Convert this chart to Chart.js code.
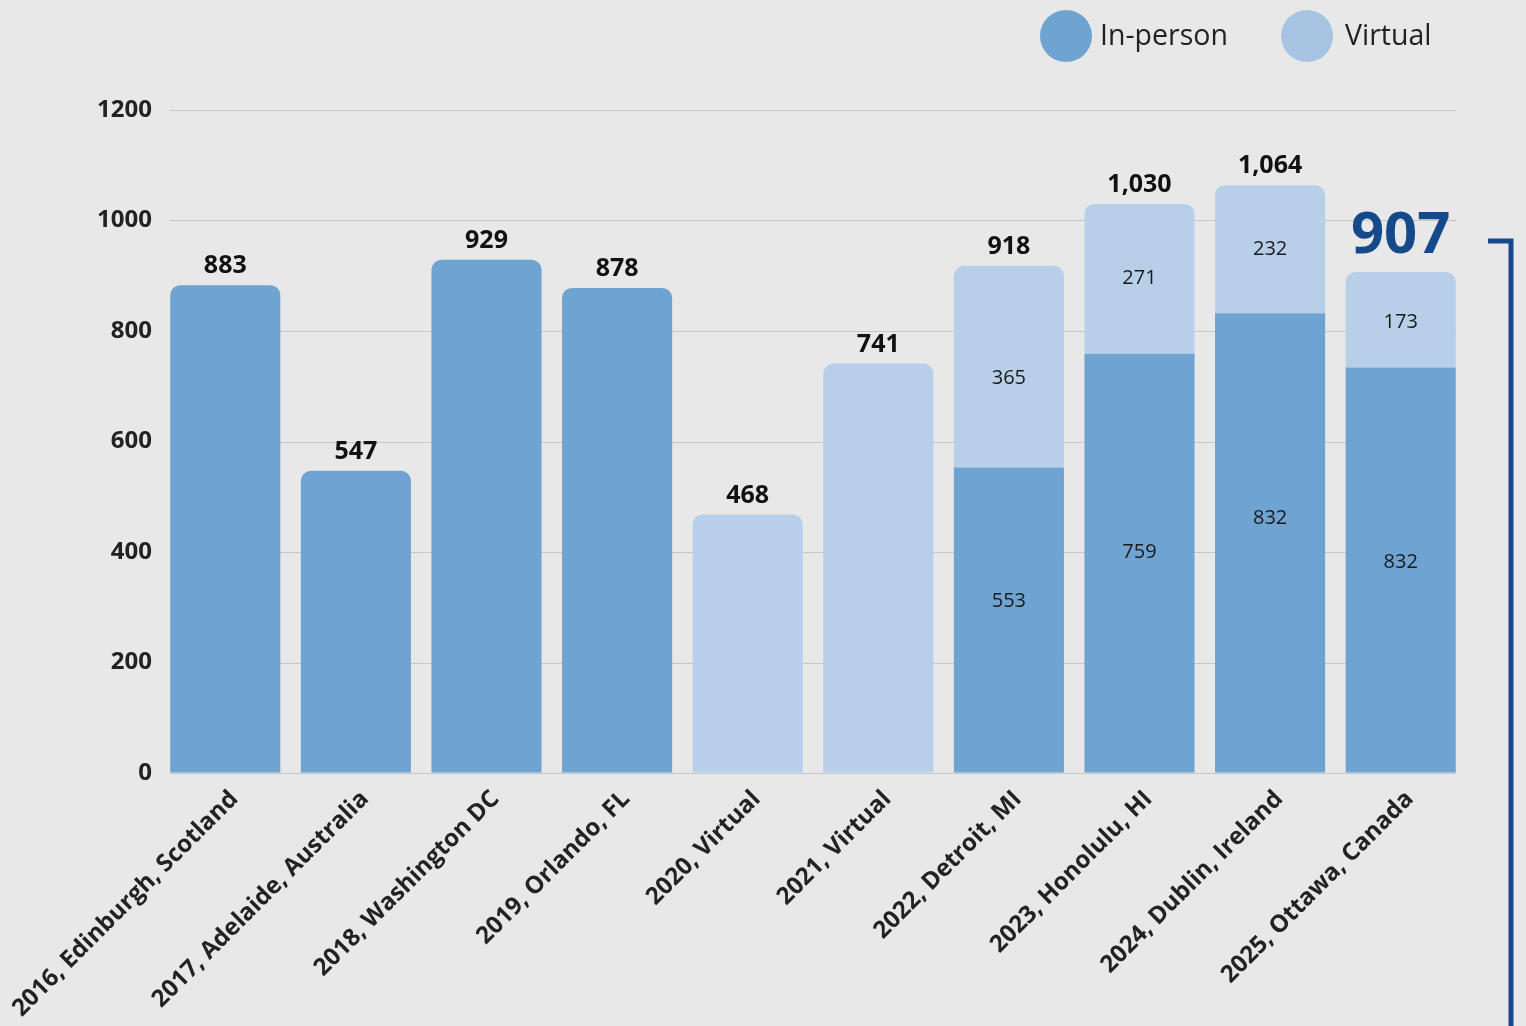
<!DOCTYPE html>
<html>
<head>
<meta charset="utf-8">
<script src="https://cdn.jsdelivr.net/npm/chart.js@4"></script>
<style>
  html, body { margin: 0; padding: 0; background: #e8e8e8; }
  #wrap { width: 1526px; height: 1026px; position: relative; }
</style>
</head>
<body>
<div id="wrap"><canvas id="c" width="1526" height="1026"></canvas></div>
<script>
const categories = ["2016, Edinburgh, Scotland", "2017, Adelaide, Australia", "2018, Washington DC", "2019, Orlando, FL", "2020, Virtual", "2021, Virtual", "2022, Detroit, MI", "2023, Honolulu, HI", "2024, Dublin, Ireland", "2025, Ottawa, Canada"];
const inPerson = [883, 547, 929, 878, null, null, 553, 759, 832, 734];
const virtual = [null, null, null, null, 468, 741, 365, 271, 232, 173];
const inPersonLabels = [null, null, null, null, null, null, "553", "759", "832", "832"];
const virtualLabels = [null, null, null, null, null, null, "365", "271", "232", "173"];
// value at which each segment label sits (as placed in the original)
const inPersonLabelAt = [null, null, null, null, null, null, 311, 399, 461, 381];
const virtualLabelAt = [null, null, null, null, null, null, 714, 895, 948, 816];
const totalLabels = ["883", "547", "929", "878", "468", "741", "918", "1,030", "1,064", "907"];
const highlightIndex = 9;
const yTicks = [0, 200, 400, 600, 800, 1000, 1200];
const seriesNames = ["In-person", "Virtual"];

const FONT = "'Open Sans', 'Noto Sans', sans-serif";
const C_IN = '#6ea3d2';
const C_VIRT = '#b8cfe9';
const C_VIRT_LEGEND = '#a7c4e2';
const C_HIGHLIGHT = '#154a8a';

function isTop(ds, i) {
  if (ds === 1) return virtual[i] != null;
  return virtual[i] == null;
}

const bgPlugin = {
  id: 'bg',
  beforeDraw(chart) {
    const ctx = chart.ctx;
    ctx.save();
    ctx.fillStyle = '#e8e8e8';
    ctx.fillRect(0, 0, chart.width, chart.height);
    ctx.restore();
  },
  beforeDatasetsDraw(chart) {
    const ctx = chart.ctx, y = chart.scales.y, a = chart.chartArea;
    ctx.save();
    ctx.strokeStyle = '#c6c6c6';
    ctx.lineWidth = 1.2;
    yTicks.forEach(v => {
      const py = Math.round(y.getPixelForValue(v)) + 0.5;
      ctx.beginPath();
      ctx.moveTo(a.left + 10, py);
      ctx.lineTo(a.right - 10, py);
      ctx.stroke();
    });
    ctx.restore();
  }
};

const labelPlugin = {
  id: 'labels',
  afterDatasetsDraw(chart) {
    const ctx = chart.ctx, ys = chart.scales.y;
    const m0 = chart.getDatasetMeta(0), m1 = chart.getDatasetMeta(1);
    ctx.save();
    ctx.textAlign = 'center';
    ctx.textBaseline = 'middle';
    categories.forEach((c, i) => {
      const e0 = m0.data[i], e1 = m1.data[i];
      ctx.fillStyle = '#1a1a1a';
      ctx.font = `400 20px ${FONT}`;
      if (inPersonLabels[i] && inPerson[i] != null) {
        const py = inPersonLabelAt[i] != null ? ys.getPixelForValue(inPersonLabelAt[i]) : (e0.y + e0.base) / 2;
        ctx.fillText(inPersonLabels[i], e0.x, py);
      }
      if (virtualLabels[i] && virtual[i] != null) {
        const py = virtualLabelAt[i] != null ? ys.getPixelForValue(virtualLabelAt[i]) : (e1.y + e1.base) / 2;
        ctx.fillText(virtualLabels[i], e1.x, py);
      }
      const top = virtual[i] != null ? e1 : e0;
      if (i === highlightIndex) {
        ctx.fillStyle = C_HIGHLIGHT;
        ctx.font = `700 58px ${FONT}`;
        ctx.fillText(totalLabels[i], top.x, top.y - 35);
      } else {
        ctx.fillStyle = '#111';
        ctx.font = `700 25px ${FONT}`;
        ctx.fillText(totalLabels[i], top.x, top.y - 19);
      }
    });
    ctx.restore();
  },
  afterDraw(chart) {
    const ctx = chart.ctx;
    ctx.save();
    const items = [
      { name: seriesNames[0], color: C_IN, cx: 1066, tx: 1100 },
      { name: seriesNames[1], color: C_VIRT_LEGEND, cx: 1307, tx: 1345 }
    ];
    ctx.font = `400 28.5px ${FONT}`;
    ctx.textBaseline = 'middle';
    ctx.textAlign = 'left';
    items.forEach(it => {
      ctx.fillStyle = it.color;
      ctx.beginPath();
      ctx.arc(it.cx, 36, 26, 0, Math.PI * 2);
      ctx.fill();
      ctx.fillStyle = '#222';
      ctx.fillText(it.name, it.tx, 37);
    });
    ctx.strokeStyle = C_HIGHLIGHT;
    ctx.lineWidth = 5;
    ctx.beginPath();
    ctx.moveTo(1488, 241);
    ctx.lineTo(1511, 241);
    ctx.lineTo(1511, chart.height + 5);
    ctx.stroke();
    ctx.restore();
  }
};

new Chart(document.getElementById('c'), {
  type: 'bar',
  data: {
    labels: categories,
    datasets: [
      {
        label: seriesNames[0],
        data: inPerson,
        backgroundColor: C_IN,
        borderWidth: 0,
        borderSkipped: false,
        borderRadius: ctx => isTop(0, ctx.dataIndex) ? { topLeft: 10, topRight: 10, bottomLeft: 0, bottomRight: 0 } : 0,
        categoryPercentage: 1,
        barPercentage: 0.843
      },
      {
        label: seriesNames[1],
        data: virtual,
        backgroundColor: C_VIRT,
        borderWidth: 0,
        borderSkipped: false,
        borderRadius: ctx => isTop(1, ctx.dataIndex) ? { topLeft: 10, topRight: 10, bottomLeft: 0, bottomRight: 0 } : 0,
        categoryPercentage: 1,
        barPercentage: 0.843
      }
    ]
  },
  options: {
    responsive: false,
    animation: false,
    devicePixelRatio: 1,
    layout: { padding: { left: 0, right: 60, top: 110, bottom: 0 } },
    plugins: { legend: { display: false }, tooltip: { enabled: false } },
    scales: {
      x: {
        stacked: true,
        grid: { display: false, drawTicks: false },
        border: { display: false },
        ticks: {
          autoSkip: false,
          maxRotation: 45,
          minRotation: 45,
          padding: 12,
          labelOffset: 9,
          color: '#222',
          font: { family: FONT, size: 24, weight: '700' }
        },
        afterFit(s) { s.height = 253; s.paddingLeft = 0; s.paddingRight = 0; }
      },
      y: {
        stacked: true,
        min: 0,
        max: 1200,
        grid: { color: 'rgba(0,0,0,0)', drawTicks: false },
        border: { display: false },
        afterBuildTicks(s) { s.ticks = yTicks.map(v => ({ value: v })); },
        ticks: {
          padding: 8,
          color: '#222',
          font: { family: FONT, size: 24, weight: '700' },
          callback: v => String(v)
        },
        afterFit(s) { s.width = 160; }
      }
    }
  },
  plugins: [bgPlugin, labelPlugin]
});
</script>
</body>
</html>
